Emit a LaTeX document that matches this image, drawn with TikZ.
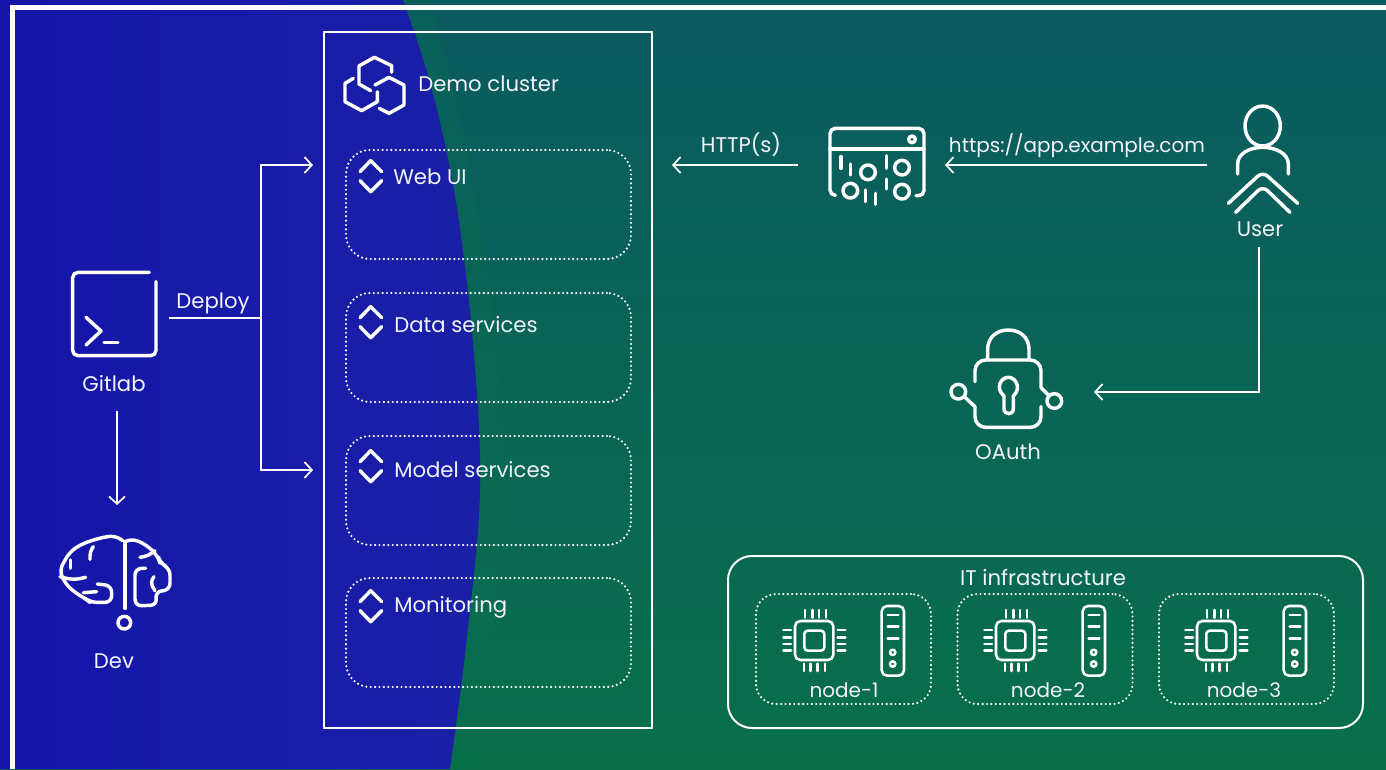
\documentclass[tikz,border=0pt]{standalone}
\usepackage{fontspec}
\setmainfont{Poppins}
\usetikzlibrary{arrows.meta,calc}
\definecolor{wht}{HTML}{FFFFFF}
\definecolor{txt}{HTML}{F2F3FA}
\definecolor{bluebg}{HTML}{1515A8}
\definecolor{blueb}{HTML}{1A20A6}
\definecolor{greentop}{HTML}{0B5A60}
\definecolor{greenbot}{HTML}{086F4A}
\definecolor{bandgreen}{HTML}{0A7050}
\tikzset{
  conn/.style={draw=wht,line width=1.5pt},
  arr/.style={conn,-{Straight Barb[length=5.5pt,width=12pt,line width=1.3pt]}},
  icon/.style={draw=wht,line width=2.6pt,line cap=round,line join=round},
  iconthin/.style={draw=wht,line width=1.9pt,line cap=round,line join=round},
  label/.style={text=txt,font=\fontsize{15.9}{18}\selectfont,inner sep=0pt},
  smalllabel/.style={label,font=\fontsize{15}{18}\selectfont},
  leftlabel/.style={label,anchor=west},
  dotbox/.style={draw=wht,line width=1.8pt,line cap=round,dash pattern=on 0pt off 3.3pt,rounded corners=18pt,inner sep=0pt},
  anchorbox/.style={inner sep=0pt,outer sep=0pt},
  zoomed/.style={x=0.25pt,y=-0.25pt},
  pics/updown/.style={code={
    \begin{scope}[zoomed,shift={(-152,-468)}]
      \path[icon] (120,455)--(152,422)--(185,455);
      \path[icon] (120,482)--(152,515)--(185,482);
    \end{scope}}},
  pics/nodehw/.style={code={
    \begin{scope}[zoomed]
      \path[iconthin,rounded corners=4pt] (165,108) rectangle (280,225);
      \path[iconthin,rounded corners=2.5pt] (193,137) rectangle (253,197);
      \foreach \a in {195,217,237,258} \path[iconthin] (\a,75)--(\a,98);
      \foreach \a in {192,212,233,255} \path[iconthin] (\a,236)--(\a,258);
      \foreach \a in {135,157,177,197} {\path[iconthin] (130,\a)--(153,\a); \path[iconthin] (293,\a)--(316,\a);}
      \path[iconthin,rounded corners=4pt] (425,63) rectangle (492,272);
      \foreach \a in {90,125,160} \path[iconthin] (443,\a)--(475,\a);
      \path[iconthin] (458,202) circle[radius=8];
      \path[iconthin] (458,237) circle[radius=8];
    \end{scope}}}
}
\begin{document}
\begin{tikzpicture}[x=0.75pt,y=-0.75pt]
\useasboundingbox (0,0) rectangle (1386,769);
% background
\path[top color=greentop,bottom color=greenbot] (0,0) rectangle (1386,769);
\path[fill=bandgreen,fill opacity=0.25]
  plot[smooth,tension=0.6] coordinates {(403,0) (430,83) (455,196) (473,343) (480,490) (467,637) (450,769)}
  -- plot[smooth,tension=0.6] coordinates {(475,769) (492,637) (503,490) (495,343) (475,196) (452,83) (430,0)} -- cycle;
\path[left color=bluebg,right color=blueb]
  plot[smooth,tension=0.6] coordinates {(403,0) (430,83) (455,196) (473,343) (480,490) (467,637) (450,769)}
  -- (0,769) -- (0,0) -- cycle;
% frame
\path[draw=wht,line width=3.75pt] (12.5,769) -- (12.5,7.5) -- (1386,7.5);

% cluster
\node[draw=wht,line width=1.5pt,anchorbox,minimum width=328*0.75pt,minimum height=696*0.75pt] (cluster) at (488,380) {};
\begin{scope}[shift={(320,20)},zoomed]
  \path[icon] (215,157)--(215,137)--(163,112)--(117,138)--(117,192)--(152,212);
  \path[icon] (165,195)--(207,172)--(252,195)--(252,255)--(207,280)--(178,265);
  \path[icon] (100,175)--(75,190)--(75,245)--(125,272)--(172,245)--(172,215);
\end{scope}
\node[leftlabel] (clusterlabel) at (418,84) {Demo cluster};

\node[dotbox,minimum width=285*0.75pt,minimum height=109*0.75pt] (webui) at (488.5,204.5) {};
\node[dotbox,minimum width=285*0.75pt,minimum height=109*0.75pt] (data) at (488.5,347.5) {};
\node[dotbox,minimum width=285*0.75pt,minimum height=109*0.75pt] (model) at (488.5,490.5) {};
\node[dotbox,minimum width=285*0.75pt,minimum height=109*0.75pt] (monitor) at (488.5,632.5) {};
\pic at (370.7,176) {updown};
\pic at (370.7,322) {updown};
\pic at (370.7,466) {updown};
\pic at (370.7,606) {updown};
\node[leftlabel] (webuilabel) at (393,177) {Web UI};
\node[leftlabel] (datalabel) at (394,325) {Data services};
\node[leftlabel] (modellabel) at (394,470) {Model services};
\node[leftlabel] (monitorlabel) at (394,607.5) {Monitoring};

% gitlab
\begin{scope}[shift={(0,240)},x=0.25pt,y=-0.25pt]
  \path[icon,rounded corners=4pt] (448,97)--(218,97)--(218,347)--(468,347)--(468,125);
  \path[icon] (258,232)--(303,273)--(258,315);
  \path[icon] (312,308)--(354,308);
\end{scope}
\node[anchorbox,minimum width=108*0.75pt,minimum height=88*0.75pt] (gitlab) at (115,314) {};
\node[label] (gitlablabel) at (114,384) {Gitlab};
\node[anchorbox,minimum width=4*0.75pt,minimum height=0pt] (gitlabfoot) at (117,411) {};

% brain
\begin{scope}[shift={(40,520)},zoomed]
  \path[icon] (255,265)--(255,65);
  \path[icon,rounded corners=5pt] (248,62)--(225,46)--(175,55)--(125,72)--(90,95)--(58,150)--(75,190)--(105,218)--(135,235)--(150,247)--(215,247)--(215,197)--(172,192);
  \path[icon,rounded corners=3pt] (160,80)--(150,95)--(150,118);
  \path[icon] (92,120)--(92,145);
  \path[icon,rounded corners=5pt] (60,170)--(100,180)--(137,172);
  \path[icon] (130,218)--(170,215);
  \path[icon,rounded corners=5pt] (262,62)--(275,55)--(320,75)--(355,110)--(360,130)--(390,145)--(390,210)--(345,215)--(352,255)--(285,258)--(285,145)--(317,145);
  \path[icon,rounded corners=3pt] (300,112)--(325,107)--(345,92);
  \path[icon,rounded corners=4pt] (342,170)--(330,187)--(345,212);
  \path[icon] (253,308) circle[radius=19];
\end{scope}
\node[anchorbox,minimum width=110*0.75pt,minimum height=108*0.75pt] (brain) at (114,559) {};
\node[label] (devlabel) at (114,661) {Dev};

% gateway
\begin{scope}[shift={(800,90)},zoomed]
  \path[icon,rounded corners=4pt] (105,316)--(90,316)--(90,115)--(372,115)--(372,317)--(348,317);
  \path[icon] (90,177)--(372,177);
  \path[icon] (336,148) circle[radius=10];
  \foreach \a/\b/\c in {123/200/235,151/222/255,260/197/235,260/267/297,197/300/335,226/310/343} \path[icon] (\a,\b)--(\a,\c);
  \foreach \a/\b in {204/247,306/233,151/302,306/305} \path[icon] (\a,\b) circle[radius=22];
\end{scope}
\node[anchorbox,minimum width=126*0.75pt,minimum height=90*0.75pt] (gateway) at (872,165) {};

% user
\begin{scope}[shift={(1200,90)},zoomed]
  \path[icon] (188,108) ellipse[x radius=53,y radius=60];
  \path[icon] (113,252)--(113,222) .. controls (113,190) and (150,172) .. (188,172) .. controls (226,172) and (265,190) .. (265,222) -- (265,252);
  \path[icon,rounded corners=5pt] (85,340)--(188,245)--(293,340);
  \path[icon,rounded corners=5pt] (107,367)--(188,288)--(270,367);
\end{scope}
\node[anchorbox,minimum width=96*0.75pt,minimum height=150*0.75pt] (user) at (1255,165) {};
\node[label] (userlabel) at (1260,229) {User};
\node[anchorbox,minimum width=4*0.75pt,minimum height=0pt] (userfoot) at (1259,247) {};

% oauth
\begin{scope}[shift={(930,320)},zoomed]
  \path[icon] (173,115)--(173,88) .. controls (173,52) and (200,30) .. (235,30) .. controls (270,30) and (297,52) .. (297,88) -- (297,115);
  \path[icon,rounded corners=8pt] (135,185)--(135,120)--(333,120)--(333,203);
  \path[icon] (333,203)--(355,225);
  \path[icon] (105,232)--(135,260);
  \path[icon,rounded corners=8pt] (135,260)--(135,322)--(333,322)--(333,260);
  \path[icon] (85,215) circle[radius=22];
  \path[icon] (373,243) circle[radius=22];
  \path[icon] (222,228) .. controls (195,205) and (212,172) .. (235,172) .. controls (258,172) and (275,205) .. (250,228) -- (250,266) .. controls (250,286) and (222,286) .. (222,266) -- cycle;
\end{scope}
\node[anchorbox,minimum width=0pt,minimum height=100*0.75pt] (oauth) at (1010,392) {};
\node[label] (oauthlabel) at (1008,452) {OAuth};

% IT infrastructure
\node[draw=wht,line width=1.5pt,anchorbox,rounded corners=18pt,minimum width=635*0.75pt,minimum height=172*0.75pt] (infra) at (1045.5,642) {};
\node[label] (infralabel) at (1043,577) {IT infrastructure};
\node[dotbox,rounded corners=15pt,minimum width=175*0.75pt,minimum height=110*0.75pt] (nodeone) at (843.5,649) {};
\node[dotbox,rounded corners=15pt,minimum width=175*0.75pt,minimum height=110*0.75pt] (nodetwo) at (1045,649) {};
\node[dotbox,rounded corners=15pt,minimum width=175*0.75pt,minimum height=110*0.75pt] (nodethree) at (1246.5,649) {};
\pic at (740,585) {nodehw};
\pic at (941,585) {nodehw};
\pic at (1142,585) {nodehw};
\node[smalllabel] (nodeonelabel) at (844,690) {node-1};
\node[smalllabel] (nodetwolabel) at (1048,690) {node-2};
\node[smalllabel] (nodethreelabel) at (1244,690) {node-3};

% connectors
\coordinate (hub) at (261,318);
\coordinate (webin) at (313,165);
\coordinate (modelin) at (313,470);
\coordinate (brainin) at (117,505);
\coordinate (gatewayin) at (945,165);
\coordinate (webout) at (672,165);
\coordinate (oauthin) at (1094,392);
\coordinate (gatewayout) at (798,165);
\coordinate (userout) at (1207,165);
\path[conn] (gitlab.east |- hub) -- (hub);
\path[arr] (hub) |- (webin);
\path[arr] (hub) |- (modelin);
\path[arr] (gitlabfoot) -- (brainin);
\path[arr] (userout) -- (gatewayin);
\path[arr] (gatewayout) -- (webout);
\path[arr,rounded corners=0pt] (userfoot) |- (oauthin);
\node[label] (deploylabel) at (213,303) {Deploy};
\node[label] (httplabel) at (741,145) {HTTP(s)};
\node[smalllabel] (urllabel) at (1077,146) {https://app.example.com};
\end{tikzpicture}
\end{document}
